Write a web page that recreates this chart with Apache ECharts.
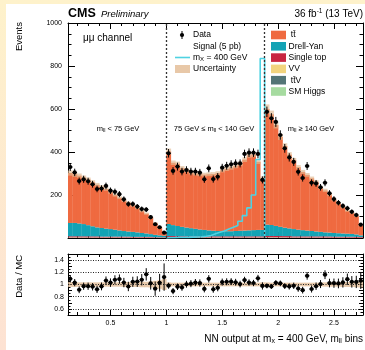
<!DOCTYPE html>
<html>
<head>
<meta charset="utf-8">
<script src="https://cdn.jsdelivr.net/npm/echarts@6/dist/echarts.min.js"></script>
<style>
html, body { margin: 0; padding: 0; }
body { width: 365px; height: 350px; position: relative; overflow: hidden;
       background: linear-gradient(to bottom, #fef2cb, #fde2d3); }
#paper { position: absolute; left: 6px; top: 4px; right: 0; bottom: 0; background: #fff; }
#chart { position: absolute; left: 0; top: 0; width: 365px; height: 350px; }
</style>
</head>
<body>
<div id="paper"></div>
<div id="chart"></div>
<script>
const FONT = '"Liberation Sans", Arial, Helvetica, sans-serif';

// binning: 3 mll regions x 22 NN bins
const binLo = 0.12, binW = 0.04;
const regionEdges = [1.0, 1.88];

// observed events (mll < 75 | 75-140 | >= 140)
const dataCounts = [
  330,305,265,273,264,250,228,230,242,220,215,204,180,158,158,146,135,132,97,64,50,25,
  394,312,332,309,316,309,309,304,273,324,274,285,327,336,343,347,347,391,397,397,391,270,
  587,557,540,479,417,375,354,308,279,335,257,254,236,257,208,181,164,149,138,122,107,62
];
const ttbar = [
  232,226,222,216,212,205,198,191,184,172,161,152,142,133,123,113,102,92,77,54,36,12,
  337,290,289,273,266,259,257,257,257,261,264,269,283,290,296,302,311,330,349,351,317,239,
  538,515,469,418,380,343,320,291,271,259,245,231,206,195,178,154,139,123,107,98,86,46
];
const drellYan = [
  62,62,60,57,52,47,42,40,37,35,32,29,26,24,23,21,18,16,13,11,9,7,
  56,51,48,44,41,38,35,32,30,28,26,25,24,24,24,25,26,27,28,29,30,30,
  53,51,47,43,39,36,34,31,29,27,25,23,21,19,18,17,16,15,14,13,11,8
];
const singleTop = [
  5,5,5,5,5,5,5,4,4,4,4,4,4,4,3,3,3,3,3,2,2,2,
  6,6,5,5,5,5,5,5,5,5,5,5,5,5,5,5,5,5,5,5,5,5,
  6,6,6,6,6,6,5,5,5,5,5,5,5,5,5,4,4,4,4,4,4,3
];
const diboson = [
  1.5,1.5,1.4,1.3,1.2,1.1,1,1,1,1,1,0.9,0.9,0.8,0.8,0.8,0.7,0.7,0.6,0.5,0.5,0.4,
  1.2,1.2,1.1,1.1,1,1,1,1,1,1,1,1,1,1,1,1,1,1,1,1,1,1,
  1.4,1.4,1.3,1.2,1.2,1.1,1,1,1,1,1,0.9,0.9,0.9,0.8,0.8,0.8,0.7,0.7,0.7,0.6,0.5
];
const ttV = [
  1,1,1,1,1,1,1,1,1,1,1,1,1,1,1,1,1,1,1,0.8,0.7,0.6,
  1.2,1.2,1.2,1.1,1.1,1.1,1,1,1,1,1,1,1,1,1,1,1,1,1,1,1,1,
  1.4,1.4,1.3,1.3,1.2,1.2,1.1,1.1,1,1,1,1,1,1,0.9,0.9,0.9,0.8,0.8,0.8,0.7,0.6
];
const smHiggs = [
  0.5,0.5,0.5,0.5,0.5,0.5,0.5,0.5,0.5,0.5,0.5,0.5,0.5,0.5,0.5,0.5,0.5,0.5,0.5,0.4,0.4,0.3,
  0.6,0.6,0.6,0.6,0.6,0.6,0.6,0.6,0.6,0.6,0.6,0.6,0.6,0.6,0.6,0.6,0.6,0.6,0.6,0.6,0.6,0.6,
  0.6,0.6,0.6,0.6,0.5,0.5,0.5,0.5,0.5,0.5,0.5,0.5,0.5,0.5,0.5,0.5,0.5,0.5,0.5,0.4,0.4,0.3
];
// signal (5 pb, mX = 400 GeV), only the 75-140 GeV region is visible
const signalMid = [1,1,2,2,3,4,5,6,8,12,20,27,33,42,50,58,78,104,140,200,365,835];
// relative total uncertainty of the prediction
const uncRel = [
  .04,.04,.035,.035,.035,.035,.035,.035,.035,.035,.035,.035,.04,.04,.04,.04,.045,.045,.05,.06,.07,.09,
  .035,.03,.03,.03,.03,.03,.03,.03,.03,.03,.03,.03,.03,.03,.03,.03,.03,.03,.03,.03,.03,.035,
  .035,.03,.03,.03,.03,.03,.03,.03,.03,.03,.03,.03,.03,.035,.035,.035,.035,.04,.04,.04,.045,.05
];
const xMajor = [0.5, 1, 1.5, 2, 2.5];
const xMinor = [0.2,0.3,0.4,0.6,0.7,0.8,0.9,1.1,1.2,1.3,1.4,1.6,1.7,1.8,1.9,2.1,2.2,2.3,2.4,2.6,2.7];

const nBins = dataCounts.length;
const edgeLo = i => binLo + i * binW;

const procs = [
  { vals: smHiggs,   color: '#a6dba0' },
  { vals: ttV,       color: '#537576' },
  { vals: diboson,   color: '#f2d47e' },
  { vals: singleTop, color: '#c82541' },
  { vals: drellYan,  color: '#13a3b5' },
  { vals: ttbar,     color: '#ef6a40' }
];

function rectRender(color) {
  return function (params, api) {
    const a = api.coord([api.value(0), api.value(2)]);
    const b = api.coord([api.value(1), api.value(3)]);
    return { type: 'rect',
      shape: { x: a[0], y: b[1], width: b[0] - a[0] + 0.3, height: a[1] - b[1] },
      style: { fill: color } };
  };
}

function pointRender(params, api) {
  const x = api.value(0), y = api.value(1), e = api.value(2);
  const c = api.coord([x, y]);
  const t = api.coord([x, y + e]);
  const b = api.coord([x, y - e]);
  const hw = api.size([binW, 0])[0] / 2;
  return { type: 'group', children: [
    { type: 'line', shape: { x1: c[0], y1: t[1], x2: c[0], y2: b[1] }, style: { stroke: '#000', lineWidth: 1 } },
    { type: 'line', shape: { x1: c[0] - hw, y1: c[1], x2: c[0] + hw, y2: c[1] }, style: { stroke: '#000', lineWidth: 1 } },
    { type: 'circle', shape: { cx: c[0], cy: c[1], r: 2.1 }, style: { fill: '#000' } }
  ] };
}

let base = new Array(nBins).fill(0);
const series = [];
procs.forEach(p => {
  const items = p.vals.map((v, i) => [edgeLo(i), edgeLo(i) + binW, base[i], base[i] + v]);
  base = base.map((b, i) => b + p.vals[i]);
  series.push({ type: 'custom', xAxisIndex: 0, yAxisIndex: 0, clip: true, silent: true,
    renderItem: rectRender(p.color), encode: { x: [0, 1], y: [2, 3] }, data: items, z: 2 });
});
const total = base;

// uncertainty band
series.push({ type: 'custom', xAxisIndex: 0, yAxisIndex: 0, clip: true, silent: true, z: 3,
  renderItem: rectRender('rgba(226,186,146,0.65)'), encode: { x: [0, 1], y: [2, 3] },
  data: total.map((t, i) => [edgeLo(i), edgeLo(i) + binW, t * (1 - uncRel[i]), t * (1 + uncRel[i])]) });

// signal outline
const sigPts = [[regionEdges[0], 0]];
signalMid.forEach((v, i) => sigPts.push([regionEdges[0] + i * binW, v]));
sigPts.push([regionEdges[1], signalMid[signalMid.length - 1]]);
sigPts.push([regionEdges[1], 0]);
series.push({ type: 'line', xAxisIndex: 0, yAxisIndex: 0, step: 'end', symbol: 'none', z: 4,
  silent: true, data: sigPts, lineStyle: { color: '#4fd2e2', width: 1.6 },
  markLine: { silent: true, symbol: ['none', 'none'], label: { show: false },
    lineStyle: { color: '#333', width: 1.3, type: [2, 2] },
    data: regionEdges.map(x => ({ xAxis: x })) } });

// data
series.push({ type: 'custom', xAxisIndex: 0, yAxisIndex: 0, clip: true, silent: true, z: 6,
  renderItem: pointRender, encode: { x: 0, y: 1 },
  data: dataCounts.map((n, i) => [edgeLo(i) + binW / 2, n, Math.sqrt(n)]) });

// ratio panel
series.push({ type: 'custom', xAxisIndex: 4, yAxisIndex: 2, clip: true, silent: true, z: 3,
  renderItem: rectRender('rgba(226,186,146,0.75)'), encode: { x: [0, 1], y: [2, 3] },
  data: uncRel.map((u, i) => [edgeLo(i), edgeLo(i) + binW, 1 - u, 1 + u]),
  markLine: { silent: true, symbol: ['none', 'none'], label: { show: false },
    lineStyle: { color: '#222', width: 1, type: [1, 1.5] },
    data: [0.6, 0.8, 1.0, 1.2, 1.4].map(y => ({ yAxis: y })) } });
series.push({ type: 'custom', xAxisIndex: 4, yAxisIndex: 2, clip: true, silent: true, z: 6,
  renderItem: pointRender, encode: { x: 0, y: 1 },
  data: dataCounts.map((n, i) => [edgeLo(i) + binW / 2, n / total[i], Math.sqrt(n) / total[i]]) });

function xAx(grid, pos, vals, len, showLine, labels) {
  return { type: 'value', gridIndex: grid, position: pos, min: 0.12, max: 2.76,
    axisLine: { show: showLine, onZero: false, lineStyle: { color: '#000', width: 1 } },
    axisTick: { show: true, inside: true, length: len, customValues: vals, lineStyle: { color: '#000' } },
    axisLabel: labels ? { show: true, customValues: xMajor, fontSize: 7, color: '#000',
      fontFamily: FONT, margin: 5, formatter: v => String(v) } : { show: false },
    splitLine: { show: false } };
}
function yAx(grid, pos, labels, opts) {
  return Object.assign({ type: 'value', gridIndex: grid, position: pos,
    axisLine: { show: true, onZero: false, lineStyle: { color: '#000', width: 1 } },
    splitLine: { show: false }, minorSplitLine: { show: false } }, opts, {
    axisLabel: labels ? Object.assign({ show: true, fontSize: 7, color: '#000', fontFamily: FONT }, labels) : { show: false } });
}

const option = {
  animation: false,
  grid: [
    { left: 68, top: 23, width: 295, height: 215 },
    { left: 68, top: 254, width: 295, height: 61 }
  ],
  xAxis: [
    xAx(0, 'bottom', xMajor, 6, true, false), xAx(0, 'bottom', xMinor, 3, false, false),
    xAx(0, 'top', xMajor, 6, true, false), xAx(0, 'top', xMinor, 3, false, false),
    xAx(1, 'bottom', xMajor, 5, true, true), xAx(1, 'bottom', xMinor, 3, false, false),
    xAx(1, 'top', xMajor, 5, true, false), xAx(1, 'top', xMinor, 3, false, false)
  ],
  yAxis: [
    yAx(0, 'left', { margin: 6, formatter: v => v === 0 ? '' : String(v) },
      { min: 0, max: 1000, interval: 200, axisTick: { inside: true, length: 7, lineStyle: { color: '#000' } },
        minorTick: { show: true, splitNumber: 4, length: 3.5, lineStyle: { color: '#000' } } }),
    yAx(0, 'right', null,
      { min: 0, max: 1000, interval: 200, axisTick: { inside: true, length: 7, lineStyle: { color: '#000' } },
        minorTick: { show: true, splitNumber: 4, length: 3.5, lineStyle: { color: '#000' } } }),
    yAx(1, 'left', { margin: 4, formatter: v => { const k = Math.round(v * 10); return (k % 2 === 0 && k > 5 && k < 15) ? String(k / 10) : ''; } },
      { min: 0.5, max: 1.5, interval: 0.1, axisTick: { inside: true, length: 4, lineStyle: { color: '#000' } },
        minorTick: { show: true, splitNumber: 2, length: 2.5, lineStyle: { color: '#000' } } }),
    yAx(1, 'right', null,
      { min: 0.5, max: 1.5, interval: 0.1, axisTick: { inside: true, length: 4, lineStyle: { color: '#000' } },
        minorTick: { show: true, splitNumber: 2, length: 2.5, lineStyle: { color: '#000' } } })
  ],
  series: series,
  graphic: []
};

const g = option.graphic;
function txt(x, y, text, size, extra) {
  g.push({ type: 'text', x: x, y: y, z: 10, silent: true,
    style: Object.assign({ text: text, fontSize: size, fontFamily: FONT, fill: '#000',
      align: 'left', verticalAlign: 'middle' }, extra || {}) });
}
const sub = s => ({ fontSize: s, fontFamily: FONT, fill: '#000', padding: [s * 0.55, 0, 0, 0] });
const nrm = s => ({ fontSize: s, fontFamily: FONT, fill: '#000' });

txt(68, 14, 'CMS', 12.5, { fontWeight: 'bold' });
txt(101, 14.5, 'Preliminary', 9.5, { fontStyle: 'italic' });
txt(363, 14, '{n|36 fb}{sup|-1}{n| (13 TeV)}', 10, { align: 'right',
  rich: { n: nrm(10), sup: { fontSize: 6.5, fontFamily: FONT, fill: '#000', padding: [0, 0, 5, 0] } } });
txt(83, 38, '\u03bc\u03bc channel', 10);

// region labels
const rs = { n: nrm(7.5), s: sub(5.5) };
txt(118, 129, '{n|m}{s|ll}{n| < 75 GeV}', 7.5, { align: 'center', rich: rs });
txt(214, 129, '{n|75 GeV \u2264 m}{s|ll}{n| < 140 GeV}', 7.5, { align: 'center', rich: rs });
txt(311, 129, '{n|m}{s|ll}{n| \u2265 140 GeV}', 7.5, { align: 'center', rich: rs });

// legend column 1
g.push({ type: 'line', z: 10, shape: { x1: 182, y1: 31, x2: 182, y2: 39 }, style: { stroke: '#000', lineWidth: 1 } });
g.push({ type: 'circle', z: 10, shape: { cx: 182, cy: 35, r: 2.1 }, style: { fill: '#000' } });
txt(193, 35, 'Data', 8.5);
txt(193, 46.5, 'Signal (5 pb)', 8.5);
g.push({ type: 'line', z: 10, shape: { x1: 175, y1: 57.5, x2: 190, y2: 57.5 }, style: { stroke: '#4fd2e2', lineWidth: 1.6 } });
txt(193, 57.5, '{n|m}{s|X}{n| = 400 GeV}', 8.5, { rich: { n: nrm(8.5), s: sub(6) } });
g.push({ type: 'rect', z: 10, shape: { x: 175, y: 65, width: 15, height: 8 }, style: { fill: 'rgba(226,186,146,0.8)' } });
txt(193, 69, 'Uncertainty', 8.5);

// legend column 2
const leg2 = [
  [' t\u0074\u0304', '#ef6a40'], ['Drell-Yan', '#13a3b5'], ['Single top', '#c82541'],
  ['VV', '#f2d47e'], [' t\u0074\u0304V', '#537576'], ['SM Higgs', '#a6dba0']
];
leg2.forEach((e, i) => {
  const yc = 35 + i * 11.3;
  g.push({ type: 'rect', z: 10, shape: { x: 271, y: yc - 4.3, width: 15, height: 8.6 }, style: { fill: e[1] } });
  txt(288.5, yc, e[0], 8.5);
});

// axis titles
txt(19, 22, 'Events', 9.5, { align: 'right' });
g[g.length - 1].rotation = Math.PI / 2;
txt(19, 255, 'Data / MC', 9.5, { align: 'right' });
g[g.length - 1].rotation = Math.PI / 2;
txt(363, 339, '{n|NN output at m}{s|x}{n| = 400 GeV, m}{s|ll}{n| bins}', 10,
  { align: 'right', rich: { n: nrm(10), s: sub(7) } });

const chart = echarts.init(document.getElementById('chart'), null, { renderer: 'canvas' });
chart.setOption(option);
</script>
</body>
</html>
